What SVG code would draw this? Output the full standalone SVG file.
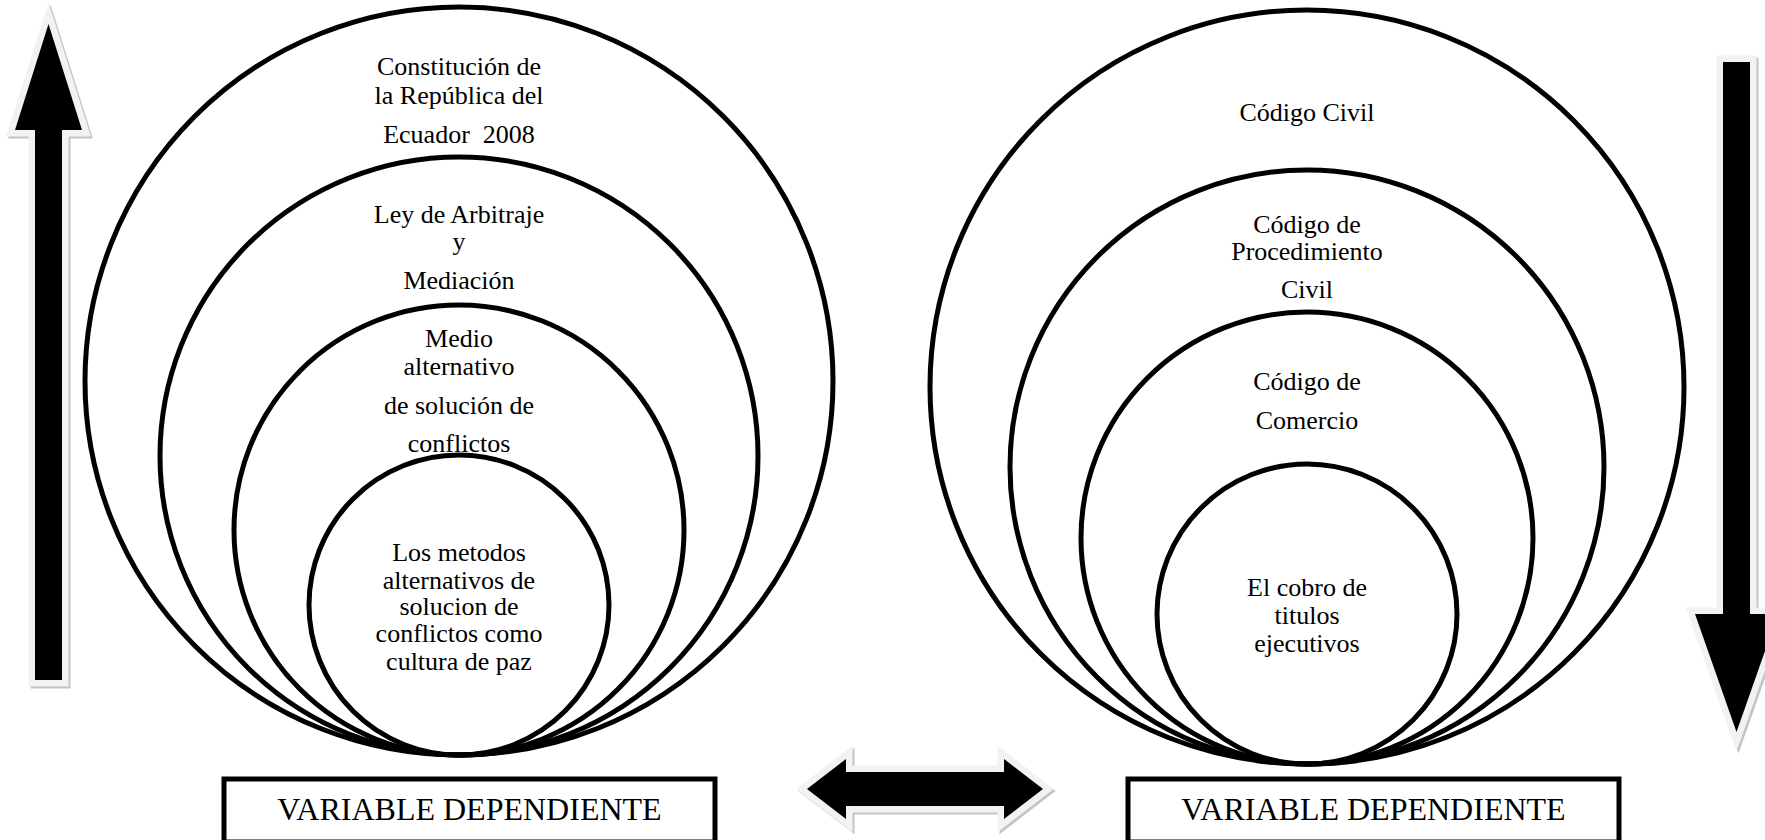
<svg xmlns="http://www.w3.org/2000/svg" xmlns:xlink="http://www.w3.org/1999/xlink" width="1765" height="840" viewBox="0 0 1765 840">
<style>
  .ring { fill: none; stroke: #000; stroke-width: 5; }
  .lbl { font-family: "Liberation Serif", "Times New Roman", serif; font-size: 26px; fill: #000; text-anchor: middle; }
  .box { fill: #fff; stroke: #000; stroke-width: 5; }
  .boxlbl { font-family: "Liberation Serif", "Times New Roman", serif; font-size: 32px; fill: #000; text-anchor: middle; }
  .shadow { fill: #c4c4c4; stroke: #c4c4c4; stroke-width: 13; stroke-linejoin: miter; stroke-miterlimit: 10; }
  .halo { fill: #f2f2f2; stroke: #f2f2f2; stroke-width: 13; stroke-linejoin: miter; stroke-miterlimit: 10; }
  .core { fill: #000; stroke: none; }
</style>
<defs>
  <polygon id="upShape" points="48.5,24 82,130 62,130 62,680 35,680 35,130 15,130"/>
  <polygon id="downShape" points="1723,62 1750,62 1750,614 1778,614 1736.5,732 1695,614 1723,614"/>
  <polygon id="bothShape" points="807,789 846,759 846,772 1004,772 1004,759 1043,789 1004,819 1004,806 846,806 846,819"/>
</defs>

<g id="arrow-up">
  <use xlink:href="#upShape" class="shadow" transform="translate(2,2)"/>
  <use xlink:href="#upShape" class="halo"/>
  <use xlink:href="#upShape" class="core"/>
</g>
<g id="arrow-down">
  <use xlink:href="#downShape" class="shadow" transform="translate(2,2)"/>
  <use xlink:href="#downShape" class="halo"/>
  <use xlink:href="#downShape" class="core"/>
</g>
<g id="arrow-both">
  <use xlink:href="#bothShape" class="shadow" transform="translate(2,2)"/>
  <use xlink:href="#bothShape" class="halo"/>
  <use xlink:href="#bothShape" class="core"/>
</g>

<g id="left-c1">
  <circle class="ring" cx="459" cy="381" r="374"/>
  <text class="lbl" x="459" y="75">Constitución de</text>
  <text class="lbl" x="459" y="104">la República del</text>
  <text class="lbl" x="459" y="143">Ecuador&#160; 2008</text>
</g>
<g id="left-c2">
  <circle class="ring" cx="459" cy="456" r="299"/>
  <text class="lbl" x="459" y="223">Ley de Arbitraje</text>
  <text class="lbl" x="459" y="250">y</text>
  <text class="lbl" x="459" y="289">Mediación</text>
</g>
<g id="left-c3">
  <circle class="ring" cx="459" cy="530" r="225"/>
  <text class="lbl" x="459" y="347">Medio</text>
  <text class="lbl" x="459" y="375">alternativo</text>
  <text class="lbl" x="459" y="414">de solución de</text>
  <text class="lbl" x="459" y="452">conflictos</text>
</g>
<g id="left-c4">
  <circle class="ring" cx="459" cy="605" r="150"/>
  <text class="lbl" x="459" y="561">Los metodos</text>
  <text class="lbl" x="459" y="589">alternativos de</text>
  <text class="lbl" x="459" y="615">solucion de</text>
  <text class="lbl" x="459" y="642">conflictos como</text>
  <text class="lbl" x="459" y="670">cultura de paz</text>
</g>

<g id="right-c1">
  <circle class="ring" cx="1307" cy="387" r="377"/>
  <text class="lbl" x="1307" y="121">Código Civil</text>
</g>
<g id="right-c2">
  <circle class="ring" cx="1307" cy="467" r="297"/>
  <text class="lbl" x="1307" y="233">Código de</text>
  <text class="lbl" x="1307" y="260">Procedimiento</text>
  <text class="lbl" x="1307" y="298">Civil</text>
</g>
<g id="right-c3">
  <circle class="ring" cx="1307" cy="538" r="226"/>
  <text class="lbl" x="1307" y="390">Código de</text>
  <text class="lbl" x="1307" y="429">Comercio</text>
</g>
<g id="right-c4">
  <circle class="ring" cx="1307" cy="614" r="150"/>
  <text class="lbl" x="1307" y="596">El cobro de</text>
  <text class="lbl" x="1307" y="624">titulos</text>
  <text class="lbl" x="1307" y="652">ejecutivos</text>
</g>

<g id="box-left">
  <rect class="box" x="224" y="779" width="491" height="63"/>
  <text class="boxlbl" x="469.5" y="820">VARIABLE DEPENDIENTE</text>
</g>
<g id="box-right">
  <rect class="box" x="1128" y="779" width="491" height="63"/>
  <text class="boxlbl" x="1373.5" y="820">VARIABLE DEPENDIENTE</text>
</g>
<g id="connectors"></g>
</svg>
